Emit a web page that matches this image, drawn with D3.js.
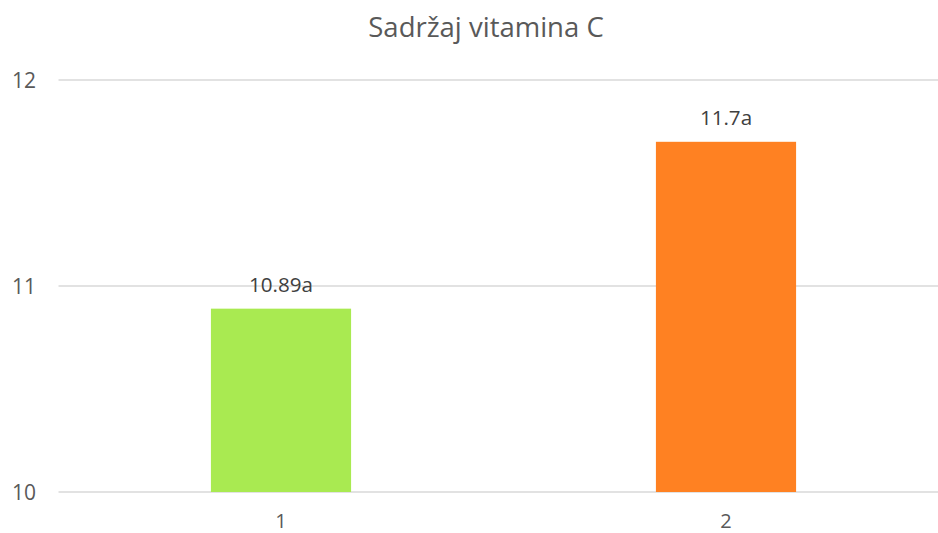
<!DOCTYPE html>
<html>
<head>
<meta charset="utf-8">
<script src="https://cdn.jsdelivr.net/npm/d3@7"></script>
<style>
  html, body { margin: 0; padding: 0; background: #fff; }
  svg { display: block; font-family: "Open Sans", sans-serif; }
</style>
</head>
<body>
<svg id="chart" width="938" height="533"></svg>
<script>
const title = "Sadržaj vitamina C";
const categories = ["1", "2"];
const values = [10.89, 11.7];
const valueLabels = ["10.89a", "11.7a"];
const barColors = ["#a9ea51", "#ff8122"];
const yTicks = [10, 11, 12];

const svg = d3.select("#chart");
const textColor = "#595959";

// plot area (right edge runs past the picture, like the original crop)
const x = d3.scaleBand()
  .domain(categories)
  .range([58.5, 948.5])
  .paddingInner(0.685)
  .paddingOuter(0.3425);

const y = d3.scaleLinear()
  .domain([10, 12])
  .range([492, 80]);

// gridlines
svg.append("g")
  .selectAll("line")
  .data(yTicks)
  .join("line")
  .attr("x1", 58.5)
  .attr("x2", 938)
  .attr("y1", d => y(d))
  .attr("y2", d => y(d))
  .attr("stroke", "#d9d9d9")
  .attr("stroke-width", 1.3);

// y tick labels
svg.append("g")
  .selectAll("text")
  .data(yTicks)
  .join("text")
  .attr("x", 36)
  .attr("y", d => y(d) + 7.5)
  .attr("text-anchor", "end")
  .attr("fill", textColor)
  .style("font-size", "21px")
  .text(d => d);

// bars
svg.append("g")
  .selectAll("rect")
  .data(values)
  .join("rect")
  .attr("x", (d, i) => x(categories[i]))
  .attr("y", d => y(d))
  .attr("width", x.bandwidth())
  .attr("height", d => y(10) - y(d))
  .attr("fill", (d, i) => barColors[i]);

// value labels
svg.append("g")
  .selectAll("text")
  .data(values)
  .join("text")
  .attr("x", (d, i) => x(categories[i]) + x.bandwidth() / 2)
  .attr("y", d => y(d) - 17)
  .attr("text-anchor", "middle")
  .attr("fill", "#404040")
  .style("font-size", "20.6px")
  .text((d, i) => valueLabels[i]);

// x labels
svg.append("g")
  .selectAll("text")
  .data(categories)
  .join("text")
  .attr("x", d => x(d) + x.bandwidth() / 2)
  .attr("y", 528)
  .attr("text-anchor", "middle")
  .attr("fill", textColor)
  .style("font-size", "20px")
  .text(d => d);

// title
svg.append("text")
  .attr("x", 486)
  .attr("y", 37)
  .attr("text-anchor", "middle")
  .attr("fill", textColor)
  .style("font-size", "27.5px")
  .text(title);
</script>
</body>
</html>
